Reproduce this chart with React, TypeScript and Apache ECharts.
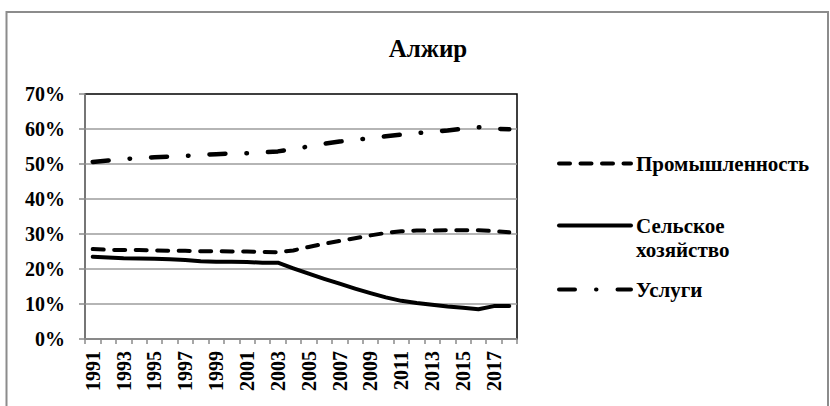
import React, { useEffect, useRef } from "react";
import * as echarts from "echarts";

const years = [
  "1991", "1992", "1993", "1994", "1995", "1996", "1997", "1998", "1999", "2000",
  "2001", "2002", "2003", "2004", "2005", "2006", "2007", "2008", "2009", "2010",
  "2011", "2012", "2013", "2014", "2015", "2016", "2017", "2018",
];

const industry = [
  25.7, 25.5, 25.4, 25.4, 25.3, 25.2, 25.2, 25.1, 25.1, 25.0,
  25.0, 24.9, 24.8, 25.3, 26.3, 27.2, 28.0, 28.8, 29.6, 30.3,
  30.8, 31.0, 31.0, 31.1, 31.1, 31.1, 30.8, 30.5,
];

const agriculture = [
  23.5, 23.3, 23.1, 23.0, 22.9, 22.8, 22.6, 22.2, 22.1, 22.1,
  22.0, 21.8, 21.8, 20.2, 18.7, 17.2, 15.8, 14.4, 13.1, 11.9,
  10.9, 10.3, 9.8, 9.3, 8.9, 8.5, 9.4, 9.4,
];

const services = [
  50.6, 51.0, 51.4, 51.7, 51.9, 52.1, 52.3, 52.6, 52.8, 53.0,
  53.1, 53.3, 53.6, 54.3, 55.0, 55.8, 56.4, 56.9, 57.4, 57.9,
  58.4, 58.8, 59.2, 59.6, 60.1, 60.5, 60.1, 59.9,
];

const seriesNames = ["Промышленность", "Сельское хозяйство", "Услуги"];
const titleText = "Алжир";

const FONT = "Liberation Serif";

export default function App() {
  const ref = useRef<HTMLDivElement>(null);

  useEffect(() => {
    if (!ref.current) return;
    const chart = echarts.init(ref.current, null, { renderer: "svg" });

    const legendCommon = {
      orient: "vertical",
      left: 557,
      padding: 0,
      itemWidth: 72,
      itemHeight: 14,
      itemGap: 0,
      selectedMode: false,
      itemStyle: { opacity: 0 },
      lineStyle: { width: 4 },
      textStyle: {
        fontFamily: FONT,
        fontWeight: "bold",
        fontSize: 21,
        color: "#000",
        rich: {
          e: { fontFamily: FONT, fontWeight: "bold", fontSize: 21, lineHeight: 24, color: "#000" },
          a: { fontFamily: FONT, fontWeight: "bold", fontSize: 21, lineHeight: 24, color: "#000" },
        },
      },
    };

    chart.setOption({
      animation: false,
      backgroundColor: "#fff",
      title: {
        text: titleText,
        left: 423,
        textAlign: "center",
        top: 31,
        textStyle: { fontFamily: FONT, fontWeight: "bold", fontSize: 25, color: "#000" },
      },
      graphic: [
        {
          type: "rect",
          shape: { x: 6.5, y: 12, width: 821.5, height: 420 },
          style: { fill: "none", stroke: "#8c8c8c", lineWidth: 2 },
          silent: true,
        },
      ],
      legend: [
        { ...legendCommon, top: 153, data: [seriesNames[0]] },
        {
          ...legendCommon,
          top: 191,
          data: [seriesNames[1]],
          formatter: () => "{e| }\n{a|Сельское}\n{a|хозяйство}",
        },
        { ...legendCommon, top: 279, data: [seriesNames[2]] },
      ],
      grid: {
        left: 85,
        right: 313,
        top: 94,
        bottom: 67,
        containLabel: false,
        outerBoundsMode: "none",
        show: true,
        borderColor: "#000",
        borderWidth: 1.5,
        backgroundColor: "transparent",
      },
      xAxis: {
        type: "category",
        data: years,
        boundaryGap: true,
        axisLine: { show: true, lineStyle: { color: "#8a8a8a", width: 1.5 } },
        axisTick: { show: true, interval: 0, length: 5, lineStyle: { color: "#8a8a8a", width: 1.5 } },
        axisLabel: {
          interval: 1,
          rotate: 90,
          margin: 12,
          fontFamily: FONT,
          fontWeight: "bold",
          fontSize: 20,
          color: "#000",
        },
        splitLine: { show: false },
      },
      yAxis: {
        type: "value",
        min: 0,
        max: 70,
        interval: 10,
        axisLine: { show: true, lineStyle: { color: "#8a8a8a", width: 1.5 } },
        axisTick: { show: true, length: 6, lineStyle: { color: "#8a8a8a", width: 1.5 } },
        axisLabel: {
          formatter: "{value}%",
          margin: 20,
          fontFamily: FONT,
          fontWeight: "bold",
          fontSize: 20,
          color: "#000",
        },
        splitLine: { show: true, showMaxLine: false, lineStyle: { color: "#9c9c9c", width: 1.5 } },
      },
      series: [
        {
          name: seriesNames[0],
          type: "line",
          data: industry,
          symbol: "none",
          showSymbol: false,
          lineStyle: { color: "#000", width: 4, type: [11, 10.5], cap: "round", join: "round" },
          itemStyle: { color: "#000" },
          z: 3,
        },
        {
          name: seriesNames[1],
          type: "line",
          data: agriculture,
          symbol: "none",
          showSymbol: false,
          lineStyle: { color: "#000", width: 4, type: "solid", cap: "round", join: "round" },
          itemStyle: { color: "#000" },
          z: 3,
        },
        {
          name: seriesNames[2],
          type: "line",
          data: services,
          symbol: "none",
          showSymbol: false,
          lineStyle: { color: "#000", width: 4.5, type: [16, 21, 0.5, 21], cap: "round", join: "round" },
          itemStyle: { color: "#000" },
          z: 3,
        },
      ],
    });

    return () => chart.dispose();
  }, []);

  return (
    <div
      ref={ref}
      style={{ position: "fixed", left: 0, top: 0, width: 830, height: 406, background: "#fff" }}
    />
  );
}
